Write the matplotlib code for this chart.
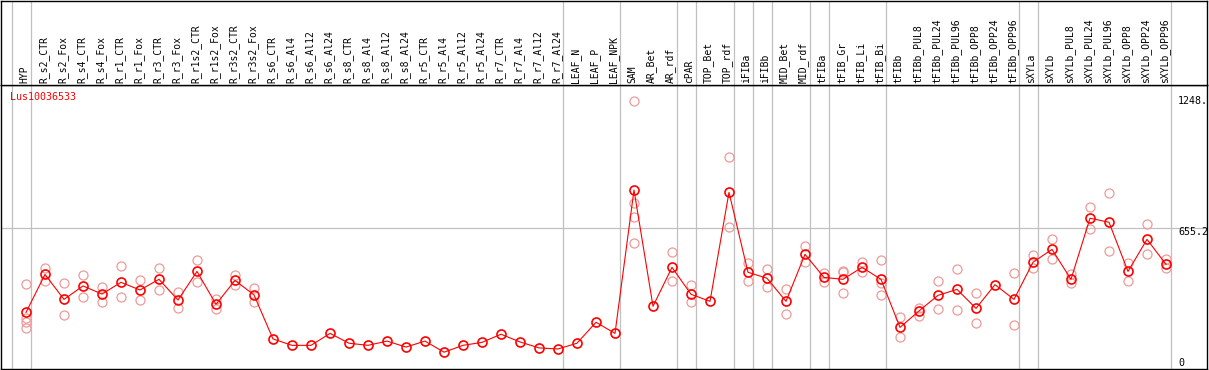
import matplotlib
matplotlib.use("Agg")
import matplotlib.pyplot as plt

# ---------------- data ----------------
title = "Lus10036533"
samples = ["HYP", "R_s2_CTR", "R_s2_Fox", "R_s4_CTR", "R_s4_Fox", "R_r1_CTR", "R_r1_Fox",
           "R_r3_CTR", "R_r3_Fox", "R_r1s2_CTR", "R_r1s2_Fox", "R_r3s2_CTR", "R_r3s2_Fox",
           "R_s6_CTR", "R_s6_Al4", "R_s6_Al12", "R_s6_Al24", "R_s8_CTR", "R_s8_Al4",
           "R_s8_Al12", "R_s8_Al24", "R_r5_CTR", "R_r5_Al4", "R_r5_Al12", "R_r5_Al24",
           "R_r7_CTR", "R_r7_Al4", "R_r7_Al12", "R_r7_Al24", "LEAF_N", "LEAF_P", "LEAF_NPK",
           "SAM", "AR_Bet", "AR_rdf", "cPAR", "TOP_Bet", "TOP_rdf", "iFIBa", "iFIBb",
           "MID_Bet", "MID_rdf", "tFIBa", "tFIB_Gr", "tFIB_Li", "tFIB_Bi", "tFIBb",
           "tFIBb_PUL8", "tFIBb_PUL24", "tFIBb_PUL96", "tFIBb_OPP8", "tFIBb_OPP24",
           "tFIBb_OPP96", "sXYLa", "sXYLb", "sXYLb_PUL8", "sXYLb_PUL24", "sXYLb_PUL96",
           "sXYLb_OPP8", "sXYLb_OPP24", "sXYLb_OPP96"]
group_sizes = [1, 28, 3, 3, 1, 2, 1, 1, 2, 1, 3, 7, 1, 7]
means = [260, 438, 321, 384, 346, 401, 365, 415, 318, 452, 298, 410, 342, 136, 106,
         106, 162, 116, 106, 126, 98, 126, 74, 106, 120, 158, 122, 94, 89, 116, 214,
         162, 833, 289, 471, 345, 312, 822, 448, 420, 312, 532, 424, 415, 471, 415,
         190, 267, 340, 368, 279, 390, 321, 495, 555, 415, 701, 682, 452, 602, 485]
replicates = [[395, 236, 214, 186], [467, 409], [396, 247], [434, 331], [378, 308],
              [476, 331], [410, 317], [468, 364], [354, 279], [504, 401], [322, 275],
              [434, 387], [373, 308], [], [], [], [], [], [], [], [], [], [], [], [],
              [], [], [], [], [], [], [], [1248, 771, 708, 584], [], [542, 406],
              [387, 308], [], [986, 659], [490, 406], [462, 378], [368, 251],
              [571, 498], [443, 401], [452, 448, 351], [495, 447], [504, 396, 340],
              [237, 144], [282, 245], [406, 275], [462, 270], [350, 209], [],
              [443, 200], [527, 467], [602, 509], [439, 399], [752, 649], [818, 546],
              [490, 409], [673, 532], [509, 467]]
axis_max = 1248
axis_mid = 655.2
right_labels = ["1248.", "655.2", "0"]

# ---------------- layout ----------------
W, H, DPI = 1209, 370, 100
fig = plt.figure(figsize=(W / DPI, H / DPI), dpi=DPI)
fig.patch.set_facecolor("white")

px_left, px_right = 1, 1207
px_sep, px_bottom = 85, 369
x0_px, dx_px = 26, 19            # pixel of first column, pixel step
units_per_px = 4.68
zero_px = 368

xlim = ((px_left - x0_px) / dx_px, (px_right - x0_px) / dx_px)
ylim = ((zero_px - px_bottom) * units_per_px, (zero_px - px_sep) * units_per_px)

ax = fig.add_axes([px_left / W, (H - px_bottom) / H, (px_right - px_left) / W,
                   (px_bottom - px_sep) / H])
axh = fig.add_axes([px_left / W, (H - px_sep) / H, (px_right - px_left) / W,
                    (px_sep - 0.5) / H])

grid_c = "#c0c0c0"
mono = "DejaVu Sans Mono"
line_off = 14 / 19  # separator lines sit 14 px left of the point

boundaries = [0]
for g in group_sizes:
    boundaries.append(boundaries[-1] + g)

for a in (ax, axh):
    a.set_xlim(*xlim)
    a.set_xticks([])
    a.set_yticks([])
    for s in a.spines.values():
        s.set_color("black")
        s.set_linewidth(1.0)
    for b in boundaries:
        a.axvline(b - line_off, color=grid_c, lw=0.9, zorder=0)

ax.set_ylim(*ylim)
axh.set_ylim(px_sep, 0)

ax.axhline(axis_mid, color=grid_c, lw=0.9, zorder=0)

# replicate points
rx, ry = [], []
for i, reps in enumerate(replicates):
    for v in reps:
        rx.append(i)
        ry.append(v)
ax.plot(rx, ry, linestyle="none", marker="o", markersize=6.5, markerfacecolor="none",
        markeredgecolor="#ee9a9a", markeredgewidth=0.9, zorder=2)

# mean line
xs = list(range(len(means)))
ax.plot(xs, means, color="red", lw=0.8, marker="o", markersize=6.5,
        markerfacecolor="none", markeredgecolor="red", markeredgewidth=1.2, zorder=3)

# header labels
for i, s in enumerate(samples):
    axh.text(i - 0.08, 83, s, rotation=90, ha="center", va="bottom", fontsize=7,
             family=mono, color="black")

# title
fig.text(10 / W, 1 - 96.7 / H, title, color="red", fontsize=7.2, family=mono,
         ha="left", va="center")

# right value labels
lab_x = (1178 - x0_px) / dx_px
for lab, val, off in zip(right_labels, [axis_max, axis_mid, 0], [0, -4.3, 5.5]):
    ax.annotate(lab, xy=(lab_x, val), xytext=(0, off * 0.72), textcoords="offset points",
                fontsize=7.2, family=mono, ha="left", va="center", color="black")

fig.savefig("out.png", dpi=DPI, facecolor="white")
